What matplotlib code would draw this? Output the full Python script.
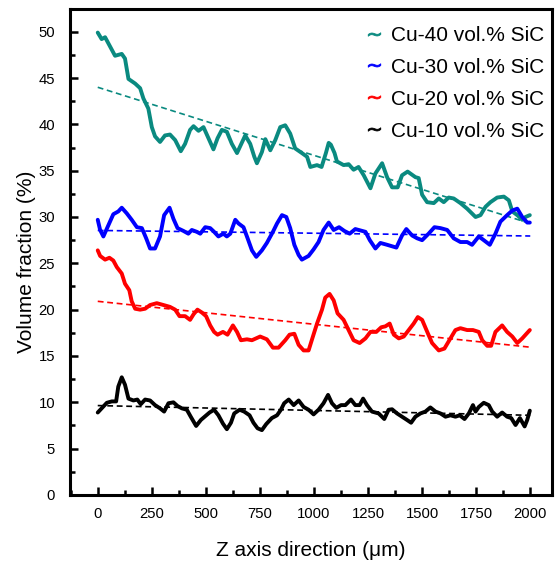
import matplotlib

matplotlib.use('Agg')
import matplotlib.pyplot as plt
from matplotlib.lines import Line2D
from matplotlib.ticker import MultipleLocator

plt.rcParams['font.family'] = ['Liberation Sans', 'DejaVu Sans']

# Cu-40 vol.% SiC
z_cu40 = [0, 18, 34, 57, 80, 111, 126, 142, 173, 196, 211, 234, 250, 265, 288, 311, 334, 358, 384,
          404, 427, 443, 466, 489, 512, 535, 554, 574, 597, 620, 644, 662, 682, 705, 724, 736, 759,
          775, 798, 821, 844, 867, 890, 913, 944, 968, 983, 1014, 1035, 1055, 1068, 1078, 1095,
          1106, 1137, 1160, 1183, 1206, 1230, 1261, 1284, 1315, 1338, 1361, 1387, 1407, 1433, 1469,
          1484, 1500, 1523, 1554, 1577, 1600, 1623, 1646, 1677, 1708, 1747, 1770, 1793, 1816, 1847,
          1878, 1901, 1917, 1940, 1963, 1978, 1998]
vf_cu40 = [49.9, 49.2, 49.4, 48.4, 47.4, 47.6, 47.1, 44.9, 44.4, 43.9, 42.8, 41.7, 39.7, 38.7, 38.1,
           38.8, 38.9, 38.3, 37.1, 37.9, 39.4, 39.8, 39.3, 39.7, 38.5, 37.3, 38.5, 39.4, 39.2, 37.9,
           36.9, 37.8, 38.8, 37.9, 36.5, 35.8, 37.0, 38.4, 37.2, 38.3, 39.7, 39.9, 39.0, 37.4, 36.9,
           36.5, 35.4, 35.6, 35.4, 36.9, 38.0, 37.8, 36.9, 36.0, 35.6, 35.7, 35.1, 35.4, 34.5, 33.1,
           34.7, 35.8, 34.3, 33.2, 33.2, 34.5, 34.9, 34.3, 34.2, 32.4, 31.6, 31.5, 32.0, 31.6, 32.1,
           32.0, 31.5, 30.9, 30.0, 30.2, 31.1, 31.6, 32.1, 32.2, 31.8, 30.6, 30.2, 29.7, 30.0, 30.2]

# Cu-30 vol.% SiC
z_cu30 = [0, 11, 26, 49, 72, 95, 111, 134, 157, 181, 204, 224, 242, 265, 288, 307, 332, 350, 369,
          396, 419, 435, 458, 474, 497, 520, 538, 558, 581, 597, 613, 636, 651, 674, 693, 713, 733,
          759, 782, 810, 829, 852, 872, 890, 909, 929, 944, 975, 998, 1021, 1044, 1068, 1091, 1116,
          1140, 1165, 1191, 1238, 1258, 1284, 1307, 1338, 1381, 1407, 1427, 1454, 1477, 1500, 1530,
          1557, 1585, 1616, 1646, 1677, 1708, 1731, 1762, 1785, 1813, 1839, 1862, 1893, 1917, 1940,
          1963, 1986, 1998]
vf_cu30 = [29.7, 28.6, 27.9, 29.1, 30.3, 30.6, 31.0, 30.4, 29.7, 28.9, 28.8, 27.7, 26.6, 26.6, 27.9,
           30.2, 31.0, 29.8, 28.8, 28.5, 28.2, 28.6, 28.4, 28.2, 28.9, 28.8, 28.4, 27.9, 28.2, 27.9,
           28.2, 29.7, 29.3, 28.9, 27.7, 26.4, 25.7, 26.4, 27.2, 28.4, 29.3, 30.2, 30.0, 28.8, 27.0,
           25.9, 25.4, 25.8, 26.5, 27.3, 28.6, 29.4, 28.6, 28.9, 28.5, 28.2, 28.7, 28.4, 27.5, 26.6,
           27.2, 27.0, 26.7, 28.0, 28.7, 28.0, 27.7, 27.5, 28.2, 28.9, 28.8, 28.6, 27.7, 27.3, 27.3,
           27.0, 27.9, 27.5, 27.0, 28.2, 29.5, 30.2, 30.7, 30.9, 30.0, 29.4, 29.4]

# Cu-20 vol.% SiC
z_cu20 = [0, 11, 34, 54, 72, 88, 111, 126, 146, 157, 173, 196, 219, 242, 273, 304, 334, 358, 378,
          404, 427, 443, 461, 481, 501, 520, 538, 554, 579, 600, 625, 644, 662, 690, 713, 751, 782,
          810, 836, 867, 887, 909, 929, 952, 975, 995, 1014, 1037, 1052, 1072, 1091, 1109, 1137,
          1160, 1183, 1211, 1238, 1261, 1288, 1311, 1330, 1350, 1369, 1392, 1415, 1438, 1461, 1480,
          1500, 1520, 1546, 1577, 1603, 1631, 1654, 1677, 1708, 1735, 1762, 1778, 1801, 1819, 1839,
          1870, 1893, 1917, 1940, 1963, 1998]
vf_cu20 = [26.4, 25.8, 25.4, 25.6, 25.3, 24.6, 23.9, 22.8, 22.1, 20.9, 20.1, 20.0, 20.1, 20.5, 20.7,
           20.5, 20.3, 20.0, 19.3, 19.3, 18.9, 19.5, 20.0, 19.7, 19.3, 18.3, 17.6, 17.3, 17.6, 17.3,
           18.3, 17.6, 16.7, 16.8, 16.7, 17.1, 16.8, 15.9, 15.9, 16.7, 17.3, 17.4, 16.2, 15.6, 15.6,
           17.1, 18.5, 20.0, 21.3, 21.7, 21.0, 19.6, 18.9, 17.8, 16.7, 16.4, 16.9, 17.6, 17.6, 18.1,
           18.2, 18.5, 17.3, 16.9, 17.1, 17.8, 18.5, 19.2, 18.9, 17.8, 16.4, 15.6, 15.8, 16.9, 17.8,
           18.0, 17.8, 17.8, 17.6, 16.7, 16.1, 16.1, 17.6, 18.3, 17.6, 17.1, 16.4, 16.9, 17.8]

# Cu-10 vol.% SiC
z_cu10 = [0, 18, 42, 65, 85, 95, 111, 126, 142, 165, 183, 199, 219, 242, 265, 288, 307, 327, 350,
          369, 389, 412, 430, 455, 477, 497, 517, 538, 558, 579, 597, 616, 631, 656, 677, 702, 720,
          739, 759, 779, 805, 829, 847, 862, 883, 906, 929, 952, 975, 998, 1021, 1044, 1065, 1083,
          1103, 1125, 1145, 1171, 1191, 1211, 1227, 1245, 1268, 1299, 1325, 1345, 1361, 1384, 1407,
          1430, 1449, 1469, 1492, 1515, 1538, 1562, 1585, 1608, 1631, 1654, 1674, 1696, 1716, 1735,
          1747, 1762, 1785, 1808, 1824, 1847, 1870, 1893, 1912, 1932, 1952, 1974, 1986, 1998]
vf_cu10 = [8.9, 9.35, 9.95, 10.1, 10.1, 11.7, 12.7, 11.9, 10.4, 10.2, 10.3, 9.8, 10.3, 10.2, 9.7,
           9.35, 9.0, 9.9, 10.0, 9.6, 9.35, 9.2, 8.45, 7.45, 8.1, 8.5, 8.9, 9.2, 8.6, 7.7, 7.1, 7.8,
           8.8, 9.2, 9.0, 8.6, 7.8, 7.2, 7.0, 7.65, 8.3, 8.6, 9.2, 9.9, 10.3, 9.7, 10.2, 9.5, 9.2,
           8.7, 9.2, 9.9, 10.8, 9.9, 9.4, 9.7, 9.7, 10.3, 9.7, 9.7, 10.4, 9.7, 9.0, 8.8, 8.2, 9.2,
           9.25, 8.8, 8.45, 8.1, 7.8, 8.45, 8.8, 9.0, 9.45, 9.0, 8.8, 8.45, 8.6, 8.45, 8.6, 8.2, 8.8,
           9.7, 9.0, 9.5, 9.95, 9.7, 9.0, 8.45, 8.9, 8.45, 8.3, 7.55, 8.3, 7.4, 8.1, 9.1]

# linear trend lines (values at z = 0 and z = 2000)
fit_z = [0, 2000]
fit_cu40 = [44.0, 29.3]
fit_cu30 = [28.55, 27.95]
fit_cu20 = [20.9, 15.95]
fit_cu10 = [9.65, 8.6]

labels = ['Cu-40 vol.% SiC', 'Cu-30 vol.% SiC', 'Cu-20 vol.% SiC', 'Cu-10 vol.% SiC']
colors = ['#0a8a80', '#0000ff', '#ff0000', '#000000']

series = [(z_cu40, vf_cu40, fit_cu40), (z_cu30, vf_cu30, fit_cu30),
          (z_cu20, vf_cu20, fit_cu20), (z_cu10, vf_cu10, fit_cu10)]

fig = plt.figure(figsize=(5.6, 5.67), dpi=100)
ax = fig.add_axes([0.1255, 0.127, 0.86, 0.858])

for (z, vf, fit), color in zip(series, colors):
    ax.plot(z, vf, color=color, lw=2.8, solid_joinstyle='round', solid_capstyle='round')
    ax.plot(fit_z, fit, color=color, lw=1.2, linestyle=(0, (3.5, 2.2)))

ax.set_xlim(-127, 2100)
ax.set_ylim(0, 52.5)
ax.xaxis.set_major_locator(MultipleLocator(250))
ax.xaxis.set_minor_locator(MultipleLocator(125))
ax.yaxis.set_major_locator(MultipleLocator(5))
ax.yaxis.set_minor_locator(MultipleLocator(2.5))

for side in ax.spines.values():
    side.set_linewidth(2.2)
ax.tick_params(which='both', direction='in', top=False, right=False, width=1.8)
ax.tick_params(which='major', length=6, labelsize=10.7)
ax.tick_params(which='minor', length=3.5)
ax.tick_params(axis='x', pad=9)
ax.tick_params(axis='y', pad=11)

ax.set_xlabel('Z axis direction (\u03bcm)', fontsize=15, labelpad=14)
ax.set_ylabel('Volume fraction (%)', fontsize=15)
ax.yaxis.set_label_coords(-0.071, 0.48)

handles = [Line2D([], [], linestyle='none', marker='$\\sim$', markersize=9, color=c,
                  markeredgewidth=0.6) for c in colors]
ax.legend(handles, labels, loc='upper right', bbox_to_anchor=(1.01, 0.99), frameon=False,
          fontsize=15, handlelength=0.8, handletextpad=0.4, labelspacing=0.62,
          borderaxespad=0.2)

fig.savefig('out.png', dpi=100)
